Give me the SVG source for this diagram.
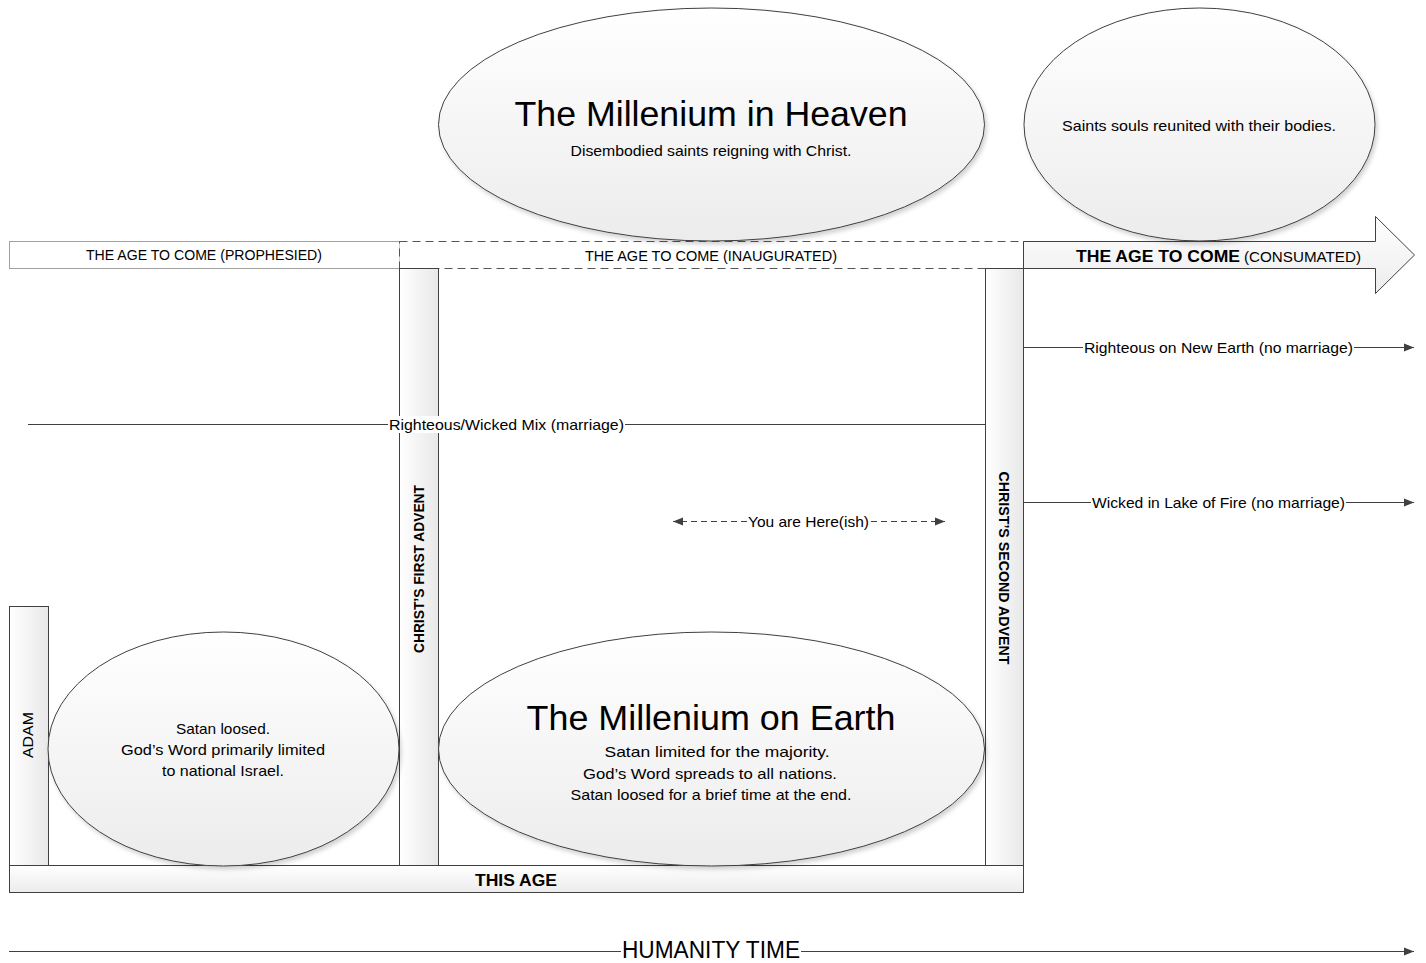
<svg xmlns="http://www.w3.org/2000/svg" width="1426" height="963" viewBox="0 0 1426 963">
<defs>
<linearGradient id="gv" x1="0" y1="0" x2="0" y2="1"><stop offset="0" stop-color="#ffffff"/><stop offset="1" stop-color="#ececec"/></linearGradient>
<linearGradient id="gh" x1="0" y1="0" x2="1" y2="0"><stop offset="0" stop-color="#ffffff"/><stop offset="1" stop-color="#e8e8e8"/></linearGradient>
<filter id="sh" x="-5%" y="-5%" width="112%" height="115%"><feDropShadow dx="2" dy="3" stdDeviation="2" flood-color="#000" flood-opacity="0.18"/></filter>
<marker id="ah" viewBox="0 0 10 10" refX="10" refY="5" markerWidth="10" markerHeight="10" markerUnits="userSpaceOnUse" orient="auto-start-reverse"><path d="M0,1 L10,5 L0,9 Z" fill="#404040"/></marker>
</defs>
<style>
text{font-family:"Liberation Sans",Arial,sans-serif;fill:#000;text-anchor:middle;dominant-baseline:central}
.m{font-size:15px}
.u{font-size:14px}
.b{font-weight:bold}
.big{font-size:35px}
.box{stroke:#404040;stroke-width:1}
.ln{stroke:#404040;stroke-width:1;fill:none}
</style>
<rect width="1426" height="963" fill="#fff"/>

<g id="prophesied">
<rect x="9.5" y="241.5" width="390" height="27" fill="#fff" stroke="#404040" stroke-dasharray="1,1"/>
<text class="u" x="204" y="255" textLength="236" lengthAdjust="spacingAndGlyphs">THE AGE TO COME (PROPHESIED)</text>
</g>
<g id="inaugurated">
<rect x="399.5" y="241.5" width="624" height="27" fill="#fff" stroke="#555" stroke-dasharray="8,5"/>
<text class="u" x="711" y="256" textLength="252" lengthAdjust="spacingAndGlyphs">THE AGE TO COME (INAUGURATED)</text>
</g>
<g id="consummated">
<path class="box" d="M1023.5,241.5 H1375.5 V216.5 L1414.5,255 L1375.5,293.5 V268.5 H1023.5 Z" fill="url(#gv)"/>
<text class="b" x="1076" y="256" style="font-size:17px;text-anchor:start" textLength="164" lengthAdjust="spacingAndGlyphs">THE AGE TO COME</text>
<text class="u" x="1244" y="257" style="text-anchor:start" textLength="117" lengthAdjust="spacingAndGlyphs">(CONSUMATED)</text>
</g>

<g id="first-advent">
<rect class="box" x="399.5" y="268.5" width="39" height="597" fill="url(#gh)"/>
<text class="u b" transform="translate(419,569) rotate(-90)" textLength="168" lengthAdjust="spacingAndGlyphs">CHRIST’S FIRST ADVENT</text>
</g>
<g id="second-advent">
<rect class="box" x="985.5" y="268.5" width="38" height="597" fill="url(#gh)"/>
<text class="u b" transform="translate(1004,568) rotate(90)" textLength="193" lengthAdjust="spacingAndGlyphs">CHRIST’S SECOND ADVENT</text>
</g>
<g id="adam">
<rect class="box" x="9.5" y="606.5" width="39" height="259" fill="url(#gh)"/>
<text class="u" transform="translate(28,735) rotate(-90)" textLength="46" lengthAdjust="spacingAndGlyphs">ADAM</text>
</g>
<g id="this-age">
<rect class="box" x="9.5" y="865.5" width="1014" height="27" fill="url(#gv)"/>
<text class="b" x="516" y="880" style="font-size:16px" textLength="82" lengthAdjust="spacingAndGlyphs">THIS AGE</text>
</g>

<g id="satan-loosed">
<ellipse class="box" cx="223.5" cy="749" rx="175.5" ry="117" fill="url(#gv)" filter="url(#sh)"/>
<text class="m" x="223" y="728" textLength="94" lengthAdjust="spacingAndGlyphs">Satan loosed.</text>
<text class="m" x="223" y="749" textLength="204" lengthAdjust="spacingAndGlyphs">God’s Word primarily limited</text>
<text class="m" x="223" y="770" textLength="122" lengthAdjust="spacingAndGlyphs">to national Israel.</text>
</g>
<g id="millenium-earth">
<ellipse class="box" cx="711.5" cy="749" rx="273" ry="117" fill="url(#gv)" filter="url(#sh)"/>
<text class="big" x="711" y="717" textLength="369" lengthAdjust="spacingAndGlyphs">The Millenium on Earth</text>
<text class="m" x="717" y="751" textLength="225" lengthAdjust="spacingAndGlyphs">Satan limited for the majority.</text>
<text class="m" x="710" y="773" textLength="254" lengthAdjust="spacingAndGlyphs">God’s Word spreads to all nations.</text>
<text class="m" x="711" y="794" textLength="281" lengthAdjust="spacingAndGlyphs">Satan loosed for a brief time at the end.</text>
</g>
<g id="millenium-heaven">
<ellipse class="box" cx="711.5" cy="124.5" rx="273" ry="116.5" fill="url(#gv)" filter="url(#sh)"/>
<text class="big" x="711" y="113" textLength="393" lengthAdjust="spacingAndGlyphs">The Millenium in Heaven</text>
<text class="m" x="711" y="150" textLength="281" lengthAdjust="spacingAndGlyphs">Disembodied saints reigning with Christ.</text>
</g>
<g id="saints-souls">
<ellipse class="box" cx="1199.5" cy="124.5" rx="175.5" ry="116.5" fill="url(#gv)" filter="url(#sh)"/>
<text class="m" x="1199" y="125" textLength="274" lengthAdjust="spacingAndGlyphs">Saints souls reunited with their bodies.</text>
</g>

<g id="connectors">
<line class="ln" x1="28" y1="424.5" x2="388" y2="424.5"/>
<line class="ln" x1="625" y1="424.5" x2="985" y2="424.5"/>
<rect x="389" y="416" width="235" height="17" fill="#fff"/>
<text class="m" x="506.5" y="424" textLength="235" lengthAdjust="spacingAndGlyphs">Righteous/Wicked Mix (marriage)</text>
<line class="ln" x1="1024" y1="347.5" x2="1083" y2="347.5"/>
<line class="ln" x1="1354" y1="347.5" x2="1414" y2="347.5" marker-end="url(#ah)"/>
<text class="m" x="1218.5" y="347" textLength="269" lengthAdjust="spacingAndGlyphs">Righteous on New Earth (no marriage)</text>
<line class="ln" x1="1024" y1="502.5" x2="1091" y2="502.5"/>
<line class="ln" x1="1346" y1="502.5" x2="1414" y2="502.5" marker-end="url(#ah)"/>
<text class="m" x="1218.5" y="502" textLength="253" lengthAdjust="spacingAndGlyphs">Wicked in Lake of Fire (no marriage)</text>
<line class="ln" x1="747" y1="521.5" x2="673" y2="521.5" stroke-dasharray="6,4" marker-end="url(#ah)"/>
<line class="ln" x1="871" y1="521.5" x2="945" y2="521.5" stroke-dasharray="6,4" marker-end="url(#ah)"/>
<text class="m" x="808.5" y="521" textLength="121" lengthAdjust="spacingAndGlyphs">You are Here(ish)</text>
<line class="ln" x1="9" y1="951.5" x2="621" y2="951.5"/>
<line class="ln" x1="801" y1="951.5" x2="1414" y2="951.5" marker-end="url(#ah)"/>
<text x="711" y="950" style="font-size:23px" textLength="178" lengthAdjust="spacingAndGlyphs">HUMANITY TIME</text>
</g>
</svg>
